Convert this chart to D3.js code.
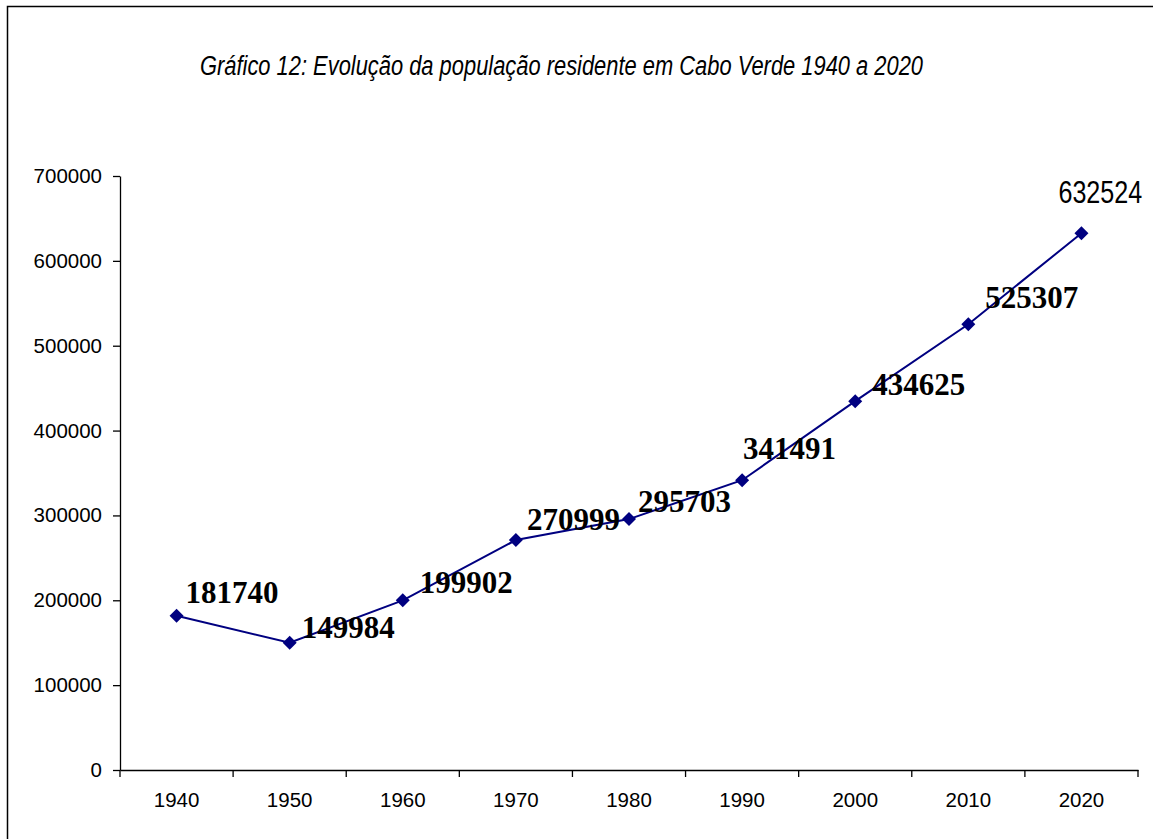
<!DOCTYPE html>
<html>
<head>
<meta charset="utf-8">
<script src="https://cdn.jsdelivr.net/npm/d3@7"></script>
<style>
  body { margin: 0; background: #fff; }
  svg { display: block; }
</style>
</head>
<body>
<svg id="chart" width="1153" height="839"></svg>
<script>
// data
const years = ["1940", "1950", "1960", "1970", "1980", "1990", "2000", "2010", "2020"];
const population = [181740, 149984, 199902, 270999, 295703, 341491, 434625, 525307, 632524];
const yTicks = [0, 100000, 200000, 300000, 400000, 500000, 600000, 700000];
const title = "Gráfico 12: Evolução da população residente em Cabo Verde 1940 a 2020";

// label placement relative to each point (dx, dy)
const labelOffsets = [[9, -13], [12, -5], [17, -7], [11, -10], [9, -7], [1, -21], [17, -6], [17, -16], [-23, -30]];

const width = 1153;
const height = 839;
const margin = { top: 176, left: 120, right: 15, bottom: 69 };

const svg = d3.select("#chart");

// outer frame
svg.append("rect")
  .attr("x", 7.5).attr("y", 6.5)
  .attr("width", 1160).attr("height", 850)
  .attr("fill", "none")
  .attr("stroke", "#000")
  .attr("stroke-width", 1.5);

svg.append("text")
  .attr("x", 200).attr("y", 75)
  .attr("font-family", "'Liberation Sans Narrow', 'Arial Narrow', 'Liberation Sans', sans-serif")
  .attr("font-style", "italic")
  .attr("font-size", 27)
  .attr("textLength", 723)
  .attr("lengthAdjust", "spacingAndGlyphs")
  .attr("fill", "#000")
  .text(title);

var xScale = d3.scaleBand()
  .domain(years)
  .range([margin.left, width - margin.right])
  .paddingInner(0)
  .paddingOuter(0);

var yScale = d3.scaleLinear()
  .domain([0, 700000])
  .range([height - margin.bottom, margin.top]);

// x axis: labels centred in each band, ticks on band edges
var xAxis = svg.append("g")
  .attr("transform", "translate(0," + (height - margin.bottom) + ")")
  .call(d3.axisBottom(xScale).tickSize(0).tickPadding(22));
xAxis.select(".domain").attr("stroke", "#000").attr("stroke-width", 1.3);
xAxis.selectAll("text")
  .attr("font-family", "'Liberation Sans', Arial, sans-serif")
  .attr("font-size", 20.5)
  .attr("fill", "#000");

xAxis.selectAll(".edge")
  .data(years.map(d => xScale(d)).concat([xScale.range()[1]]))
  .enter()
  .append("line")
  .attr("class", "edge")
  .attr("x1", d => d).attr("x2", d => d)
  .attr("y1", 0).attr("y2", 7)
  .attr("stroke", "#000")
  .attr("stroke-width", 1.3);

var yAxis = svg.append("g")
  .attr("transform", "translate(" + margin.left + ",0)")
  .call(d3.axisLeft(yScale).tickValues(yTicks).tickFormat(d3.format("d")).tickSize(7).tickSizeOuter(0).tickPadding(11));
yAxis.select(".domain").attr("stroke", "#000").attr("stroke-width", 1.3);
yAxis.selectAll(".tick line").attr("stroke", "#000").attr("stroke-width", 1.3);
yAxis.selectAll("text")
  .attr("font-family", "'Liberation Sans', Arial, sans-serif")
  .attr("font-size", 20.5)
  .attr("fill", "#000");

// series
var pts = years.map((y, i) => ({ year: y, value: population[i], off: labelOffsets[i] }));
var cx = d => xScale(d.year) + xScale.bandwidth() / 2;

svg.append("path")
  .datum(pts)
  .attr("fill", "none")
  .attr("stroke", "#000080")
  .attr("stroke-width", 2)
  .attr("d", d3.line().x(cx).y(d => yScale(d.value)));

svg.selectAll(".marker")
  .data(pts)
  .enter()
  .append("path")
  .attr("class", "marker")
  .attr("transform", d => "translate(" + cx(d) + "," + yScale(d.value) + ")")
  .attr("d", d3.symbol().type(d3.symbolDiamond2).size(125))
  .attr("fill", "#000080");

// data labels (last one in a narrow sans, as in the source)
var last = pts.length - 1;
svg.selectAll(".label")
  .data(pts)
  .enter()
  .append("text")
  .attr("class", "label")
  .attr("transform", (d, i) => "translate(" + (cx(d) + d.off[0]) + "," + (yScale(d.value) + d.off[1]) + ")"
    + (i === last ? " scale(0.81,1)" : ""))
  .attr("font-family", (d, i) => i === last
    ? "'Liberation Sans', Arial, sans-serif"
    : "'Liberation Serif', 'Times New Roman', serif")
  .attr("font-weight", (d, i) => i === last ? "normal" : "bold")
  .attr("font-size", 31)
  .attr("fill", "#000")
  .text(d => d.value);
</script>
</body>
</html>
